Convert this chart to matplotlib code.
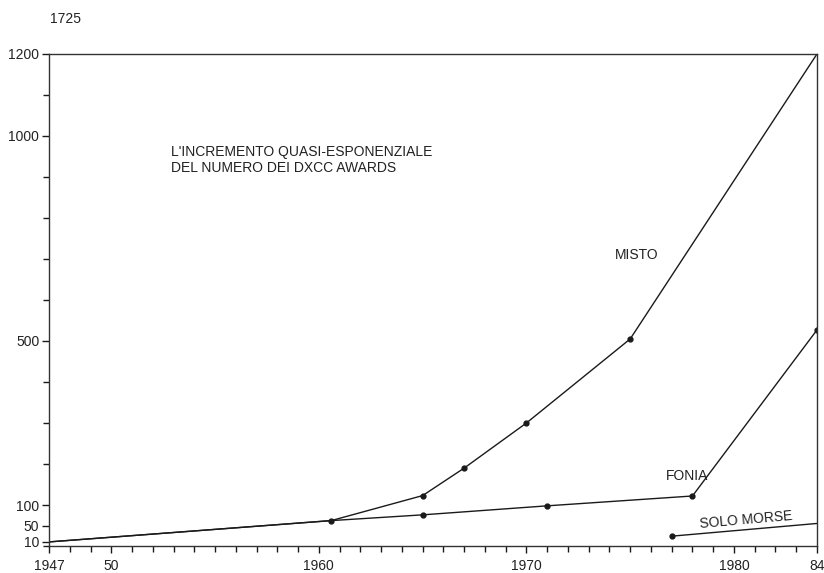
import matplotlib.pyplot as plt
from matplotlib.ticker import MultipleLocator

plt.rcParams['font.family'] = ['Liberation Sans', 'DejaVu Sans']

# dati
misto_anni = [1947, 1960.6, 1965, 1967, 1970, 1975, 1984]
misto_val = [10, 62, 123, 190, 300, 505, 1200]
misto_punti = [1960.6, 1965, 1967, 1970, 1975]

fonia_anni = [1947, 1960.6, 1965, 1971, 1978, 1984]
fonia_val = [10, 62, 76, 98, 122, 527]
fonia_punti = [1965, 1971, 1978, 1984]

morse_anni = [1977, 1984]
morse_val = [24, 55]

y_ticks = [10, 50, 100, 500, 1000, 1200]
x_ticks = [1947, 1950, 1960, 1970, 1980, 1984]
x_labels = ['1947', '50', '1960', '1970', '1980', '84']

fig = plt.figure(figsize=(8.24, 5.73), dpi=100)
ax = fig.add_axes([0.0595, 0.0471, 0.932, 0.8587])

ink = '#1a1a1a'
testo = '#222222'
fs = 10

ax.plot(misto_anni, misto_val, color=ink, lw=1.0)
ax.plot(fonia_anni, fonia_val, color=ink, lw=1.0)
ax.plot(morse_anni, morse_val, color=ink, lw=1.0)

def punti(anni, xs, ys):
    sel = [ys[xs.index(a)] for a in anni]
    ax.plot(anni, sel, 'o', color=ink, ms=3.5)

punti(misto_punti, misto_anni, misto_val)
punti(fonia_punti, fonia_anni, fonia_val)
ax.plot(morse_anni[:1], morse_val[:1], 'o', color=ink, ms=3.5)

ax.set_xlim(1947, 1984)
ax.set_ylim(0, 1200)

ax.set_yticks(y_ticks)
ax.set_yticklabels([str(v) for v in y_ticks])
ax.yaxis.set_minor_locator(MultipleLocator(100))
ax.set_xticks(x_ticks)
ax.set_xticklabels(x_labels)
ax.xaxis.set_minor_locator(MultipleLocator(1))

ax.tick_params(axis='both', which='major', length=5, width=1, color=ink,
               labelsize=fs, labelcolor=testo)
ax.tick_params(axis='both', which='minor', length=4, width=1, color=ink)
ax.tick_params(axis='x', which='major', pad=4)
ax.tick_params(axis='y', which='major', pad=2)

for s in ax.spines.values():
    s.set_color('#333333')
    s.set_linewidth(1.0)

fig.text(0.079, 0.966, '1725', fontsize=fs, color=testo, ha='center', va='center')

ax.text(1952.9, 941, "L'INCREMENTO QUASI-ESPONENZIALE\nDEL NUMERO DEI DXCC AWARDS",
        fontsize=fs, color=testo, ha='left', va='center', linespacing=1.15)
ax.text(1974.25, 710, 'MISTO', fontsize=fs, color=testo, ha='left', va='center')
ax.text(1976.7, 171, 'FONIA', fontsize=fs, color=testo, ha='left', va='center')
ax.text(1980.6, 63, 'SOLO MORSE', fontsize=fs, color=testo, ha='center',
        va='center', rotation=5)

fig.savefig('out.png', dpi=100)
